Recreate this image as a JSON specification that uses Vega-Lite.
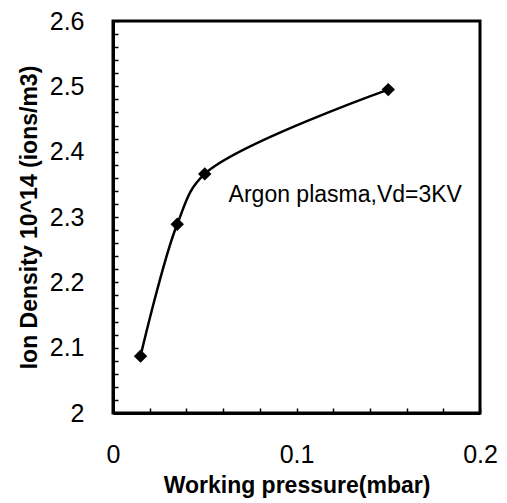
{
  "$schema": "https://vega.github.io/schema/vega-lite/v6.json",
  "width": 367,
  "height": 392,
  "autosize": {"type": "none"},
  "padding": {"left": 113, "top": 21, "right": 27, "bottom": 90},
  "background": "white",
  "config": {
    "view": {"stroke": "black", "strokeWidth": 3},
    "axis": {
      "grid": false,
      "domainColor": "black",
      "domainWidth": 3,
      "tickColor": "black",
      "tickWidth": 1.5,
      "tickSize": -5,
      "tickCount": 200,
      "labelFont": "Liberation Sans",
      "labelFontSize": 25,
      "labelColor": "black",
      "labelOverlap": false,
      "labelFlush": false,
      "titleFont": "Liberation Sans",
      "titleFontSize": 23,
      "titleFontWeight": "bold",
      "titleColor": "black",
      "format": "~g"
    }
  },
  "data": {
    "values": [
      {"pressure": 0.015, "density": 2.087},
      {"pressure": 0.035, "density": 2.289},
      {"pressure": 0.05, "density": 2.366},
      {"pressure": 0.15, "density": 2.495}
    ]
  },
  "layer": [
    {
      "mark": {"type": "line", "interpolate": "catmull-rom", "color": "black", "strokeWidth": 2.5},
      "encoding": {
        "x": {
          "field": "pressure",
          "type": "quantitative",
          "scale": {"domain": [0, 0.2], "nice": false, "zero": false},
          "axis": {
            "title": "Working pressure(mbar)",
            "values": [0, 0.02, 0.04, 0.06, 0.08, 0.1, 0.12, 0.14, 0.16, 0.18, 0.2],
            "labelExpr": "abs(datum.value*10 - round(datum.value*10)) < 0.001 ? datum.label : ''",
            "labelPadding": 34,
            "titlePadding": 7
          }
        },
        "y": {
          "field": "density",
          "type": "quantitative",
          "scale": {"domain": [2, 2.6], "nice": false, "zero": false},
          "axis": {
            "title": "Ion Density 10^14 (ions/m3)",
            "values": [2, 2.02, 2.04, 2.06, 2.08, 2.1, 2.12, 2.14, 2.16, 2.18, 2.2, 2.22, 2.24, 2.26, 2.28, 2.3, 2.32, 2.34, 2.36, 2.38, 2.4, 2.42, 2.44, 2.46, 2.48, 2.5, 2.52, 2.54, 2.56, 2.58, 2.6],
            "labelExpr": "abs(datum.value*10 - round(datum.value*10)) < 0.001 ? datum.label : ''",
            "labelPadding": 34,
            "titlePadding": 8
          }
        }
      }
    },
    {
      "mark": {"type": "point", "shape": "diamond", "filled": true, "color": "black", "opacity": 1, "size": 180},
      "encoding": {
        "x": {"field": "pressure", "type": "quantitative"},
        "y": {"field": "density", "type": "quantitative"}
      }
    },
    {
      "data": {"values": [{"px": 0.063, "py": 2.334, "label": "Argon plasma,Vd=3KV"}]},
      "mark": {"type": "text", "align": "left", "baseline": "middle", "font": "Liberation Sans", "fontSize": 23, "color": "black"},
      "encoding": {
        "x": {"field": "px", "type": "quantitative"},
        "y": {"field": "py", "type": "quantitative"},
        "text": {"field": "label"}
      }
    }
  ]
}
